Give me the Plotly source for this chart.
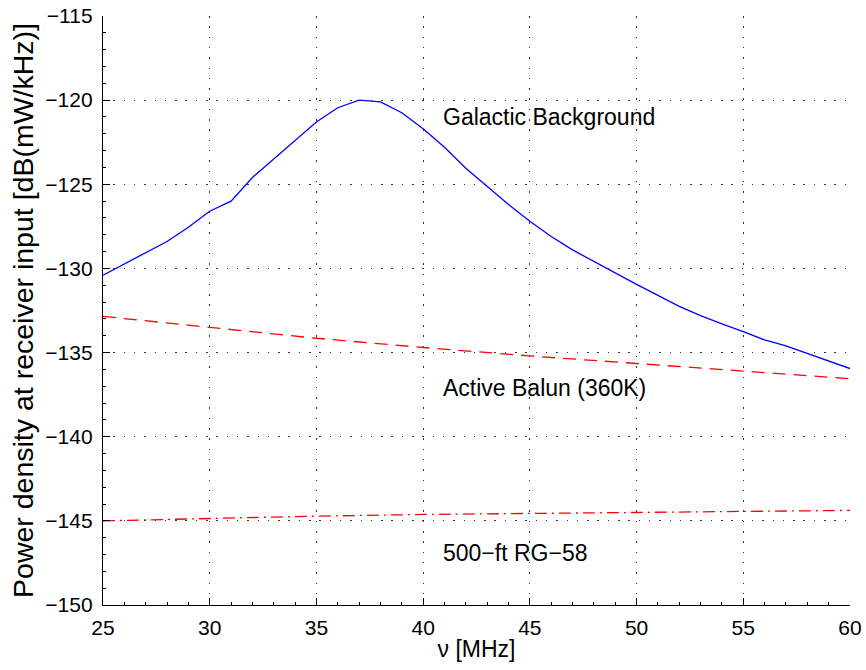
import plotly.graph_objects as go

freq_gal = list(range(25, 61))
gal_db = [-130.4, -129.75, -129.1, -128.4, -127.55, -126.6, -126.0, -124.6, -123.5, -122.4,
          -121.3, -120.45, -120.0, -120.1, -120.75, -121.7, -122.8, -124.05, -125.15, -126.2,
          -127.2, -128.1, -128.9, -129.6, -130.3, -130.95, -131.6, -132.25, -132.8, -133.3,
          -133.75, -134.25, -134.6, -135.05, -135.5, -135.95]
freq_coarse = [25, 30, 35, 40, 45, 50, 55, 60]
balun_db = [-132.85, -133.5, -134.15, -134.7, -135.2, -135.65, -136.1, -136.55]
rg58_db = [-145.0, -144.85, -144.72, -144.62, -144.55, -144.48, -144.43, -144.38]

labels = [
    (41, -121.0, "Galactic Background"),
    (41, -137.1, "Active Balun (360K)"),
    (41, -146.9, "500\u2212ft RG\u221258"),
]

FONT = "Liberation Sans, Arial, Helvetica, sans-serif"

fig = go.Figure()
fig.add_trace(go.Scatter(x=freq_gal, y=gal_db, mode="lines",
                         line=dict(color="#0000FF", width=1.3)))
fig.add_trace(go.Scatter(x=freq_coarse, y=balun_db, mode="lines",
                         line=dict(color="#FF0000", width=1.3, dash="13px,8px")))
fig.add_trace(go.Scatter(x=freq_coarse, y=rg58_db, mode="lines",
                         line=dict(color="#FF0000", width=1.3, dash="12px,5px,2px,5px")))

for x, y, t in labels:
    fig.add_annotation(x=x, y=y, text=t, showarrow=False, xanchor="left", yanchor="middle",
                       xshift=-3, font=dict(family=FONT, size=23, color="black"))

axis_common = dict(
    showline=True, linecolor="black", linewidth=1.2,
    ticks="inside", ticklen=7, tickwidth=1, tickcolor="black",
    showgrid=True, gridcolor="rgba(0,0,0,0.8)", gridwidth=1, griddash="1.5px,8.8px",
    zeroline=False, mirror=False, automargin=False, ticklabeloverflow="allow",
    tickfont=dict(family=FONT, size=21, color="black"),
)

fig.update_xaxes(range=[25, 60], dtick=5, tick0=25,
                 minor=dict(dtick=1, ticks="inside", ticklen=3, tickcolor="black", showgrid=False),
                 title=dict(text="\u03bd [MHz]", standoff=2,
                            font=dict(family=FONT, size=23, color="black")),
                 ticklabelstandoff=4, **axis_common)
fig.update_yaxes(range=[-150, -115], dtick=5, tick0=-150,
                 minor=dict(dtick=1, ticks="inside", ticklen=3, tickcolor="black", showgrid=False),
                 title=dict(text="Power density at receiver input [dB(mW/kHz)]", standoff=3,
                            font=dict(family=FONT, size=28.5, color="black")),
                 ticklabelstandoff=5, **axis_common)

fig.update_layout(
    width=866, height=670,
    margin=dict(l=103, r=16, t=16, b=65),
    plot_bgcolor="white", paper_bgcolor="white",
    showlegend=False,
    font=dict(family=FONT, color="black"),
)

fig.write_html(
    "out.html",
    config={"displayModeBar": False, "staticPlot": True},
    post_script="document.body.style.margin='0';document.body.style.overflow='hidden';",
)
